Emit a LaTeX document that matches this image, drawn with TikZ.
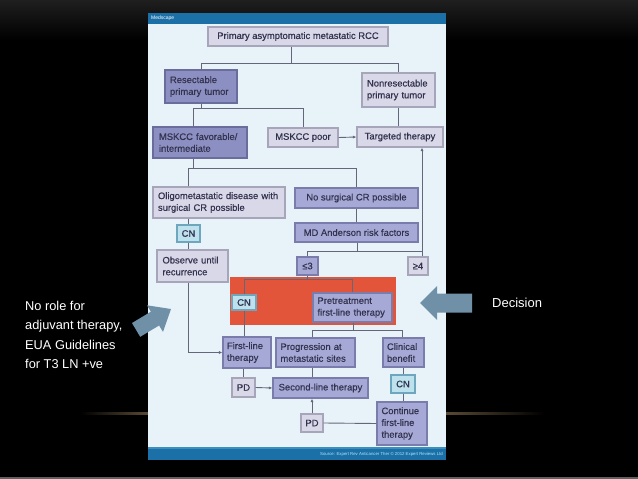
\documentclass[tikz,border=0pt]{standalone}
\usepackage{fontspec}
\setmainfont{Liberation Sans}
\newfontfamily\boxfont[FakeBold=0.5]{Liberation Sans}
\usetikzlibrary{arrows.meta}
\definecolor{lightF}{HTML}{D9D8E8}
\definecolor{lightD}{HTML}{A6A5BA}
\definecolor{midF}{HTML}{A6A9D6}
\definecolor{midD}{HTML}{7A7DAC}
\definecolor{darkF}{HTML}{8C8FC1}
\definecolor{darkD}{HTML}{6A6C9C}
\definecolor{cnF}{HTML}{BDE2EE}
\definecolor{cnD}{HTML}{6DA6BD}
\definecolor{txtC}{HTML}{33334F}
\definecolor{lineC}{HTML}{66667A}
\definecolor{panelC}{HTML}{E8F3F9}
\definecolor{headC}{HTML}{1C70A8}
\definecolor{orangeC}{HTML}{E2553A}
\definecolor{arrowC}{HTML}{7090A8}
\definecolor{glowC}{HTML}{5A4A34}
\begin{document}
\begin{tikzpicture}[x=1pt,y=-1pt,
  base/.style={rectangle, inner sep=0pt, line width=1.1pt, text=txtC,
    font=\boxfont\fontsize{9.4}{11.8}\selectfont},
  lb/.style={base, fill=lightF, draw=lightD},
  mb/.style={base, fill=midF, draw=midD},
  db/.style={base, fill=darkF, draw=darkD},
  cb/.style={base, fill=cnF, draw=cnD},
  ln/.style={draw=lineC, line width=0.9pt},
  arr/.style={ln, -{Latex[length=3.5pt,width=3pt]}},
  bigarrow/.style={fill=arrowC, draw=none},
  side/.style={text=white, font=\fontsize{12.8}{19.5}\selectfont, align=left}
]
\useasboundingbox (0,0) rectangle (638,479);
% slide background
\fill[black] (0,0) rectangle (638,479);
\shade[top color=black!88, bottom color=black] (0,0) rectangle (638,40);
\shade[left color=black, right color=glowC] (80,412.5) rectangle (148,414);
\shade[left color=glowC, right color=black] (446,412.5) rectangle (545,414);
\fill[black!62] (0,476.5) rectangle (638,479);
% panel
\fill[panelC] (148,13) rectangle (446,460);
\fill[headC] (148,13) rectangle (446,24);
\fill[headC] (148,448) rectangle (446,460);
\fill[cyan!40!headC] (148,447) rectangle (446,448.5);
\node[anchor=west, text=white, font=\fontsize{5}{5}\selectfont, inner sep=0pt] (medscape) at (151,18.5) {Medscape};
\node[anchor=east, text=cyan!30, font=\fontsize{4.3}{5}\selectfont, inner sep=0pt] (source) at (443,454.5) {Source: Expert Rev Anticancer Ther \copyright\ 2012 Expert Reviews Ltd};
% orange highlight
\fill[orangeC] (230,277) rectangle (396,325);
% junction coordinates
\coordinate (j1) at (291,63);
\coordinate (j2) at (201,108);
\coordinate (jf) at (193,108);
\coordinate (j3) at (188,168);
\coordinate (jf2) at (193,168);
\coordinate (j4) at (357,251);
\coordinate (g) at (422,251);
\coordinate (j5) at (308,279);
\coordinate (pl) at (312,330);
\coordinate (pr) at (402,330);
\coordinate (pm) at (353,330);
% nodes
\node[lb, minimum width=180pt, minimum height=19pt] (prim) at (298,36.5) {Primary asymptomatic metastatic RCC};
\node[db, minimum width=72pt, minimum height=33pt, text width=62pt, align=left] (resect) at (201,86.5) {Resectable\\primary tumor};
\node[lb, minimum width=73pt, minimum height=34pt, text width=63pt, align=left] (nonres) at (398.5,90) {Nonresectable\\primary tumor};
\node[db, minimum width=94pt, minimum height=31pt, text width=82pt, align=left] (fav) at (200,142.5) {MSKCC favorable/\\intermediate};
\node[lb, minimum width=70pt, minimum height=19pt] (poor) at (303,137.5) {MSKCC poor};
\node[lb, minimum width=86pt, minimum height=20pt] (targ) at (400,137) {Targeted therapy};
\node[lb, minimum width=132pt, minimum height=31pt, text width=128pt, align=left] (oligo) at (219,202.5) {\hspace*{3pt}Oligometastatic disease with\\\hspace*{3pt}surgical CR possible};
\node[mb, minimum width=123pt, minimum height=20pt] (nosurg) at (356.5,198) {No surgical CR possible};
\node[cb, minimum width=23pt, minimum height=17pt] (cn1) at (188.5,233.5) {CN};
\node[mb, minimum width=123pt, minimum height=19pt] (mda) at (356.5,232.5) {MD Anderson risk factors};
\node[lb, minimum width=71pt, minimum height=32pt, text width=60pt, align=left] (observe) at (192.5,266) {Observe until\\recurrence};
\node[mb, minimum width=21pt, minimum height=18pt] (le3) at (307.5,266) {≤3};
\node[lb, minimum width=20pt, minimum height=18pt] (ge4) at (418,266) {≥4};
\node[cb, minimum width=24pt, minimum height=15pt] (cn2) at (244,302.5) {CN};
\node[mb, minimum width=79pt, minimum height=29pt, text width=70pt, align=left] (pretreat) at (352.5,307.5) {Pretreatment\\first-line therapy};
\node[mb, minimum width=48pt, minimum height=31pt, text width=40pt, align=left] (first) at (247,352.5) {First-line\\therapy};
\node[mb, minimum width=79pt, minimum height=29pt, text width=70pt, align=left] (prog) at (315.5,352.5) {Progression at\\metastatic sites};
\node[mb, minimum width=41pt, minimum height=29pt, text width=33pt, align=left] (clin) at (403.5,352.5) {Clinical\\benefit};
\node[lb, minimum width=23pt, minimum height=19pt] (pd1) at (243.5,387.5) {PD};
\node[mb, minimum width=95pt, minimum height=20pt] (second) at (320.5,388) {Second-line therapy};
\node[cb, minimum width=24pt, minimum height=18pt] (cn3) at (403,384) {CN};
\node[mb, minimum width=50pt, minimum height=43pt, text width=41pt, align=left] (cont) at (402,423.5) {Continue\\first-line\\therapy};
\node[lb, minimum width=22pt, minimum height=18pt] (pd2) at (312,423) {PD};
% connectors
\draw[ln] (prim.south -| j1) -- (j1);
\draw[ln] (resect.north) -- (resect.north |- j1) -- (nonres.north |- j1) -- (nonres.north);
\draw[ln] (resect.south) -- (j2);
\draw[ln] (fav.north -| jf) -- (jf) -- (poor.north |- j2) -- (poor.north);
\draw[ln] (nonres.south) -- (nonres.south |- targ.north);
\draw[arr] (poor.east) -- (targ.west);
\draw[ln] (fav.south -| jf2) -- (jf2);
\draw[ln] (oligo.north -| j3) -- (j3) -- (j3 -| nosurg.north) -- (nosurg.north);
\draw[ln] (oligo.south -| cn1.north) -- (cn1.north);
\draw[ln] (cn1.south) -- (observe.north -| cn1.south);
\draw[arr] (observe.south -| cn1.south) |- (first.west);
\draw[ln] (nosurg.south) -- (mda.north);
\draw[ln] (mda.south -| j4) -- (j4);
\draw[ln] (le3.north) -- (le3.north |- g) -- (g);
\draw[arr] (ge4.north -| g) -- (targ.south -| g);
\draw[ln] (le3.south) -- (le3.south |- j5);
\draw[ln] (cn2.north) -- (cn2.north |- j5) -- (pretreat.north |- j5) -- (pretreat.north);
\draw[ln] (cn2.south) -- (first.north -| cn2.south);
\draw[ln] (pretreat.south -| pm) -- (pm);
\draw[ln] (prog.north -| pl) -- (pl) -- (pr) -- (clin.north -| pr);
\draw[ln] (first.south -| pd1.north) -- (pd1.north);
\draw[arr] (pd1.east) -- (second.west);
\draw[ln] (prog.south -| pl) -- (second.north -| pl);
\draw[ln] (clin.south -| cn3.north) -- (cn3.north);
\draw[ln] (cn3.south) -- (cont.north -| cn3.south);
\draw[ln] (cont.west) -- (pd2.east);
\draw[arr] (pd2.north -| pl) -- (second.south -| pl);
% side annotations
\node[side, anchor=north west, inner sep=0pt] (note) at (25,301) {No role for\\adjuvant therapy,\\EUA Guidelines\\for T3 LN +ve};
\node[text=white, font=\fontsize{13}{15}\selectfont, anchor=west, inner sep=0pt] (decision) at (492,303) {Decision};
% big arrows
\fill[bigarrow] (171,309) -- (147.0,305.3) -- (150.9,311.7) -- (132.0,323.0) -- (140.2,336.8) -- (159.1,325.5) -- (163.0,331.9) -- cycle;
\fill[bigarrow] (420,303) -- (437,286) -- (437,293.5) -- (472,293.5) -- (472,312.5) -- (437,312.5) -- (437,320) -- cycle;
\end{tikzpicture}
\end{document}
